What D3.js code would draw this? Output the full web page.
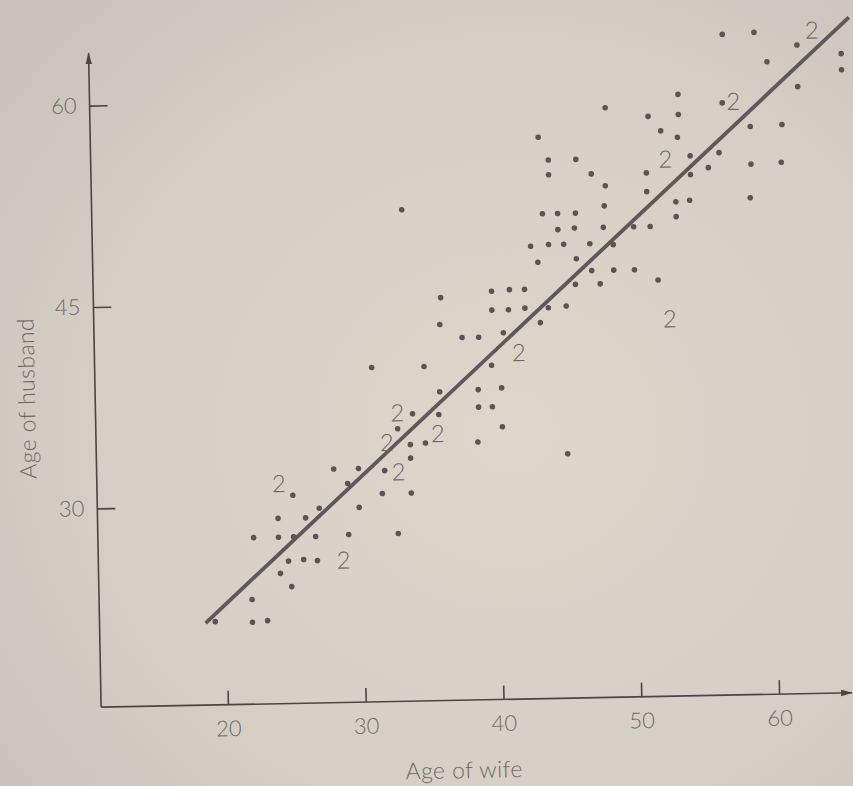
<!DOCTYPE html>
<html><head><meta charset="utf-8">
<script src="https://cdn.jsdelivr.net/npm/d3@7"></script>
<style>html,body{margin:0;padding:0;background:#d6d0c6;}svg{display:block}</style>
</head><body><svg id="chart" width="853" height="786"></svg>
<script>
// ---- data (ages) ----
const wifeAge = [19.2,21.9,23.0,21.9,24.8,24.0,24.6,25.7,26.7,22.1,23.9,25.0,26.6,29.0,32.6,23.9,25.9,26.9,29.8,25.0,
  31.5,33.6,29.0,28.0,29.8,31.7,33.6,33.6,34.7,38.5,40.3,45.0,32.7,33.8,35.7,38.6,39.6,35.8,38.6,40.3,
  30.9,34.7,39.6,37.5,38.7,40.5,35.9,43.2,39.7,40.9,42.1,43.8,36.0,39.7,41.0,42.1,43.1,45.1,45.8,47.6,
  51.8,47.0,48.6,50.1,45.9,42.6,43.9,45.0,46.9,48.6,44.6,45.8,47.9,50.1,51.3,43.5,44.6,45.9,48.0,53.2,
  53.2,54.2,51.1,48.1,44.0,47.1,51.1,54.3,55.6,44.0,46.0,54.3,43.3,52.2,53.4,51.3,53.5,56.8,59.1,62.2,
  65.4,65.4,60.0,62.2,53.5,56.7,58.7,61.0,56.4,58.7,60.9,58.6,33.3,48.2];
const husbandAge = [21.4,21.3,21.4,23.0,23.9,24.9,25.8,25.9,25.8,27.6,27.6,27.6,27.6,27.7,27.7,29.0,29.0,29.7,29.7,30.7,
  30.7,30.7,31.5,32.6,32.6,32.4,33.3,34.3,34.4,34.4,35.5,33.4,35.5,36.6,36.5,37.0,37.0,38.2,38.3,38.4,
  40.1,40.1,40.1,42.2,42.2,42.5,43.2,43.2,44.2,44.2,44.3,44.3,45.2,45.6,45.7,45.7,47.7,44.4,46.0,46.0,
  46.2,47.0,47.0,47.0,47.9,48.9,49.0,49.0,49.0,48.9,50.1,50.2,50.2,50.2,50.2,51.3,51.3,51.3,51.8,50.9,
  52.0,52.1,52.8,53.3,54.2,54.2,54.2,54.0,54.5,55.3,55.3,55.4,57.0,57.3,56.8,58.4,58.5,64.4,64.5,63.5,
  62.8,61.6,62.3,60.4,60.0,59.3,57.5,57.6,55.6,54.7,54.8,52.2,51.8,59.1];
// couples plotted twice (marked "2")
const wifeAgeTwin = [24.0,28.6,32.7,31.9,32.7,35.6,41.6,52.6,52.5,57.5,63.3];
const husbandAgeTwin = [31.6,25.8,32.3,34.5,36.7,35.1,41.0,43.3,55.2,59.4,64.6];
const twinMark = "2";
// fitted line: husband = intercept + slope * wife
const fitIntercept = 4.1;
const fitSlope = 0.93;
const fitWifeRange = [18.5, 66.0];
const xTickValues = [20, 30, 40, 50, 60];
const yTickValues = [30, 45, 60];
const xAxisExtent = [10.8, 65.3];
const yAxisExtent = [15.2, 63.9];
const xTitle = "Age of wife";
const yTitle = "Age of husband";

// ---- drawing ----
const svg = d3.select("#chart");
const defs = svg.append("defs");
const grad = defs.append("radialGradient").attr("id","paper")
  .attr("cx","60%").attr("cy","55%").attr("r","78%");
grad.append("stop").attr("offset","0%").attr("stop-color","#ddd6cb");
grad.append("stop").attr("offset","60%").attr("stop-color","#d6cfc5");
grad.append("stop").attr("offset","100%").attr("stop-color","#c8c2bb");
svg.append("rect").attr("width",853).attr("height",786).attr("fill","url(#paper)");

defs.append("marker").attr("id","arrow").attr("viewBox","0 0 12 8")
  .attr("refX",11).attr("refY",4).attr("markerWidth",12).attr("markerHeight",8)
  .attr("markerUnits","userSpaceOnUse").attr("orient","auto")
  .append("path").attr("d","M0,0.8 L12,4 L0,7.2 Z").attr("fill","#4a4644");

const x = d3.scaleLinear().domain(xAxisExtent).range([95.3, 846.4]);
const y = d3.scaleLinear().domain(yAxisExtent).range([700, 46]);

const g = svg.append("g").attr("transform","rotate(-1.1,470,400)");

const textColor = "#6e6966";
const font = "Lato, 'Open Sans', 'DejaVu Sans', sans-serif";

// axes lines
g.append("line").attr("x1",x(xAxisExtent[0])).attr("y1",y(yAxisExtent[0]))
  .attr("x2",x(xAxisExtent[1])).attr("y2",y(yAxisExtent[0]))
  .attr("stroke","#4a4644").attr("stroke-width",1.6).attr("marker-end","url(#arrow)");
g.append("line").attr("x1",x(xAxisExtent[0])).attr("y1",y(yAxisExtent[0]))
  .attr("x2",x(xAxisExtent[0])).attr("y2",y(yAxisExtent[1]))
  .attr("stroke","#4a4644").attr("stroke-width",1.6).attr("marker-end","url(#arrow)");

const xAxis = g.append("g").attr("transform",`translate(0,${y(yAxisExtent[0])})`)
  .call(d3.axisBottom(x).tickValues(xTickValues).tickSize(-14).tickPadding(16));
const yAxis = g.append("g").attr("transform",`translate(${x(xAxisExtent[0])},0)`)
  .call(d3.axisLeft(y).tickValues(yTickValues).tickSize(-18).tickPadding(13));
[xAxis, yAxis].forEach(a => {
  a.select(".domain").remove();
  a.selectAll(".tick line").attr("stroke","#4a4644").attr("stroke-width",1.6);
  a.selectAll(".tick text").attr("fill",textColor).attr("font-family",font)
    .attr("font-weight",300).attr("font-size",22);
});

// titles
g.append("text").attr("x",457).attr("y",770).attr("dy","0.35em")
  .attr("text-anchor","middle").attr("fill",textColor).attr("font-family",font)
  .attr("font-weight",300).attr("font-size",23).attr("letter-spacing",0.4).text(xTitle);
g.append("text").attr("transform","translate(27,390) rotate(-90)").attr("dy","0.35em")
  .attr("text-anchor","middle").attr("fill",textColor).attr("font-family",font)
  .attr("font-weight",300).attr("font-size",23).attr("letter-spacing",0.4).text(yTitle);

// fitted line
const fitLine = fitWifeRange.map(w => [w, fitIntercept + fitSlope * w]);
g.append("path").datum(fitLine)
  .attr("d", d3.line().x(d => x(d[0])).y(d => y(d[1])))
  .attr("stroke","#5d595a").attr("stroke-width",3.8).attr("fill","none");

// points
g.append("g").selectAll("circle").data(wifeAge.map((w,i)=>[w,husbandAge[i]]))
  .join("circle").attr("cx",d=>x(d[0])).attr("cy",d=>y(d[1])).attr("r",2.8)
  .attr("fill","#5a5552");

g.append("g").selectAll("text").data(wifeAgeTwin.map((w,i)=>[w,husbandAgeTwin[i]]))
  .join("text").attr("x",d=>x(d[0])).attr("y",d=>y(d[1])).attr("dy","0.36em")
  .attr("text-anchor","middle").attr("fill","#6a6561").attr("font-family",font)
  .attr("font-weight",300).attr("font-size",24).text(twinMark);
</script></body></html>
